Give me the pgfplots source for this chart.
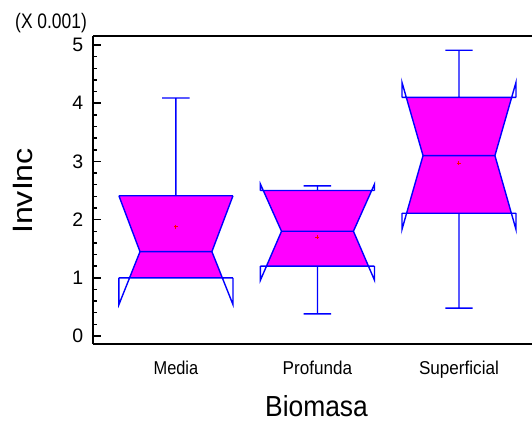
\documentclass[border=0pt]{standalone}
\usepackage{fontspec}
\setmainfont{Liberation Sans}
\usepackage{graphicx}
\usepackage{pgfplots}
\pgfplotsset{compat=1.18}
\definecolor{boxfill}{RGB}{255,0,255}
\definecolor{boxline}{RGB}{0,0,255}
\definecolor{meanred}{RGB}{255,0,0}
\pgfplotsset{
  outline/.style={boxline, solid, no markers, line width=1.4pt},
  notchfill/.style={fill=boxfill, draw=none, no markers},
  meanmark/.style={only marks, mark=+, mark size=2pt, meanred, line width=1pt},
}
\begin{document}
\begin{tikzpicture}[x=1pt,y=1pt]
\useasboundingbox (0,0) rectangle (532,423);
\begin{axis}[
  at={(93.3pt,79pt)}, anchor=south west,
  scale only axis, width=438.7pt, height=308pt,
  xmin=0.416, xmax=3.516, ymin=-0.137, ymax=5.155,
  axis x line*=box, axis y line*=left,
  axis line style={line width=2pt, black},
  tick align=inside,
  xtick={1,2,3},
  xticklabels={\scalebox{0.88}[1]{Media},\scalebox{0.92}[1]{Profunda},\scalebox{0.92}[1]{Superficial}},
  major x tick style={draw=none},
  xticklabel style={anchor=base, inner sep=0pt, yshift=-30pt, font=\fontsize{18.6}{20}\selectfont},
  ytick={0,1,2,3,4,5}, yticklabels={0,1,2,3,4,5},
  minor y tick num=4,
  ytick pos=left,
  y tick style={line width=1.5pt, black},
  major tick length=8pt, minor tick length=4pt,
  yticklabel style={anchor=east, inner sep=0pt, xshift=-10pt, font=\fontsize{19.5}{21}\selectfont},
  xlabel={\scalebox{0.91}[1]{Biomasa}},
  xlabel style={at={(axis description cs:0.5088,-0.2354)}, anchor=base, inner sep=0pt, font=\fontsize{29}{31}\selectfont},
  ylabel={\scalebox{1.15}[1]{InvInc}},
  ylabel style={at={(axis description cs:-0.1375,0.4968)}, anchor=base, inner sep=0pt, font=\fontsize{28}{30}\selectfont},
  unbounded coords=jump,
]
% --- Media: whisker 1.00--4.09, Q1 1.00, median 1.45, Q3 2.41, notch 0.54--2.41, mean 1.88
\addplot[notchfill] coordinates {(0.6723,1.00) (1.3277,1.00) (1.254,1.45) (1.403,2.41) (0.597,2.41) (0.746,1.45)};
\addplot[outline] coordinates {
  (0.597,1.00) (0.597,0.54) (0.746,1.45) (0.597,2.41) (nan,nan)
  (1.403,1.00) (1.403,0.54) (1.254,1.45) (1.403,2.41) (nan,nan)
  (0.597,1.00) (1.403,1.00) (nan,nan)
  (0.597,2.41) (1.403,2.41) (nan,nan)
  (0.746,1.45) (1.254,1.45) (nan,nan)
  (1,2.41) (1,4.09) (nan,nan)
  (0.903,4.09) (1.097,4.09) (nan,nan)
  (0.903,1.00) (1.097,1.00)};
\addplot[meanmark] coordinates {(1,1.88)};
% --- Profunda: whisker 0.38--2.58, Q1 1.20, median 1.80, Q3 2.50, notch 0.96--2.61, mean 1.70
\addplot[notchfill] coordinates {(1.6396,1.20) (2.3604,1.20) (2.254,1.80) (2.3828,2.50) (1.6172,2.50) (1.746,1.80)};
\addplot[outline] coordinates {
  (1.597,1.20) (1.597,0.96) (1.746,1.80) (1.597,2.61) (1.597,2.50) (nan,nan)
  (2.403,1.20) (2.403,0.96) (2.254,1.80) (2.403,2.61) (2.403,2.50) (nan,nan)
  (1.597,1.20) (2.403,1.20) (nan,nan)
  (1.597,2.50) (2.403,2.50) (nan,nan)
  (1.746,1.80) (2.254,1.80) (nan,nan)
  (2,2.50) (2,2.58) (nan,nan)
  (1.903,2.58) (2.097,2.58) (nan,nan)
  (2,1.20) (2,0.38) (nan,nan)
  (1.903,0.38) (2.097,0.38)};
\addplot[meanmark] coordinates {(2,1.70)};
% --- Superficial: whisker 0.48--4.91, Q1 2.11, median 3.10, Q3 4.10, notch 1.83--4.36, mean 2.97
\addplot[notchfill] coordinates {(2.6299,2.11) (3.3701,2.11) (3.254,3.10) (3.3723,4.10) (2.6277,4.10) (2.746,3.10)};
\addplot[outline] coordinates {
  (2.597,2.11) (2.597,1.83) (2.746,3.10) (2.597,4.36) (2.597,4.10) (nan,nan)
  (3.403,2.11) (3.403,1.83) (3.254,3.10) (3.403,4.36) (3.403,4.10) (nan,nan)
  (2.597,2.11) (3.403,2.11) (nan,nan)
  (2.597,4.10) (3.403,4.10) (nan,nan)
  (2.746,3.10) (3.254,3.10) (nan,nan)
  (3,4.10) (3,4.91) (nan,nan)
  (2.903,4.91) (3.097,4.91) (nan,nan)
  (3,2.11) (3,0.48) (nan,nan)
  (2.903,0.48) (3.097,0.48)};
\addplot[meanmark] coordinates {(3,2.97)};
\end{axis}
\node[anchor=base west, inner sep=0pt, font=\fontsize{21}{22}\selectfont] at (15,394) {\scalebox{0.83}[1]{(X 0.001)}};
\end{tikzpicture}
\end{document}
